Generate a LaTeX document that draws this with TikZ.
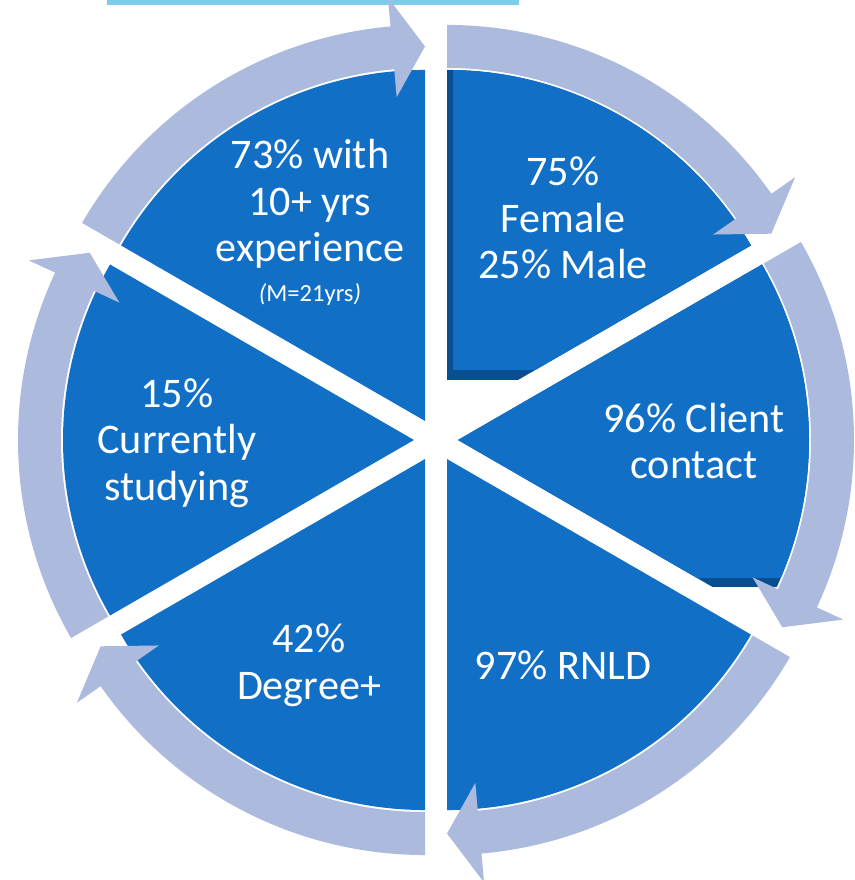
\documentclass[tikz,border=0pt]{standalone}
\usepackage{fontspec}
\setmainfont{Carlito}
\usetikzlibrary{positioning}
\definecolor{segblue}{RGB}{17,112,198}
\definecolor{segdark}{RGB}{10,78,146}
\definecolor{ringblue}{RGB}{172,186,222}
\definecolor{barblue}{RGB}{125,204,236}
\tikzset{
	seglabel/.style={text=white, align=center, inner sep=0pt, font=\fontsize{24}{26.6}\selectfont},
	meanlabel/.style={text=white, inner sep=0pt, font=\fontsize{14}{16}\selectfont},
}
\begin{document}
\begin{tikzpicture}[scale=0.02]
	
	\useasboundingbox (-436,-440) rectangle (418,440);
	\clip (-436,-440) rectangle (418,440);
	\fill[barblue] (-329,435) rectangle (83,440);
	
	% exploded segments
	\foreach \b in {-60,-120,180,120} {
		\fill[segblue] (\b:22) -- ++(\b+30:351) arc[start angle=\b+30, end angle=\b-30, radius=351] -- cycle;
	}
	\begin{scope}
		\clip (-436,60) rectangle (418,440);
		\fill[segdark] (60:22) -- ++(90:351) arc[start angle=90, end angle=30, radius=351] -- cycle;
		\clip (17,70) rectangle (418,440);
		\fill[segblue] (60:22) -- ++(90:351) arc[start angle=90, end angle=30, radius=351] -- cycle;
	\end{scope}
	\begin{scope}
		\clip (-436,-147) rectangle (418,440);
		\fill[segdark] (0:22) -- ++(30:351) arc[start angle=30, end angle=-30, radius=351] -- cycle;
		\clip (-436,-138) rectangle (418,440);
		\fill[segblue] (0:22) -- ++(30:351) arc[start angle=30, end angle=-30, radius=351] -- cycle;
	\end{scope}
	
	% ring arrows
	\foreach \b in {60,0,-60,-120,180,120} {
		\begin{scope}[shift={(\b:22)}]
			\fill[ringblue] (\b+30:353) arc[start angle=\b+30, end angle=\b-25, radius=353]
				-- (\b-25:325) -- (\b-30:374.5) -- (\b-25:425) -- (\b-25:396)
				arc[start angle=\b-25, end angle=\b+30, radius=396] -- cycle;
		\end{scope}
	}
	
	\node[seglabel] (gender) at (127,222) {75\%\\Female\\25\% Male};
	\node[seglabel] (contact) at (258,-1) {96\% Client\\contact};
	\node[seglabel] (rnld) at (127,-225) {97\% RNLD};
	\node[seglabel] (degree) at (-127,-225) {42\%\\Degree+};
	\node[seglabel] (study) at (-259,-3) {15\%\\Currently\\studying};
	\node[seglabel] (exp) at (-126,236) {73\% with\\10+ yrs\\experience};
	\node[meanlabel, below=8pt of exp] (mean) {\textit{(}M=21yrs\textit{)}};
	
\end{tikzpicture}
\end{document}
